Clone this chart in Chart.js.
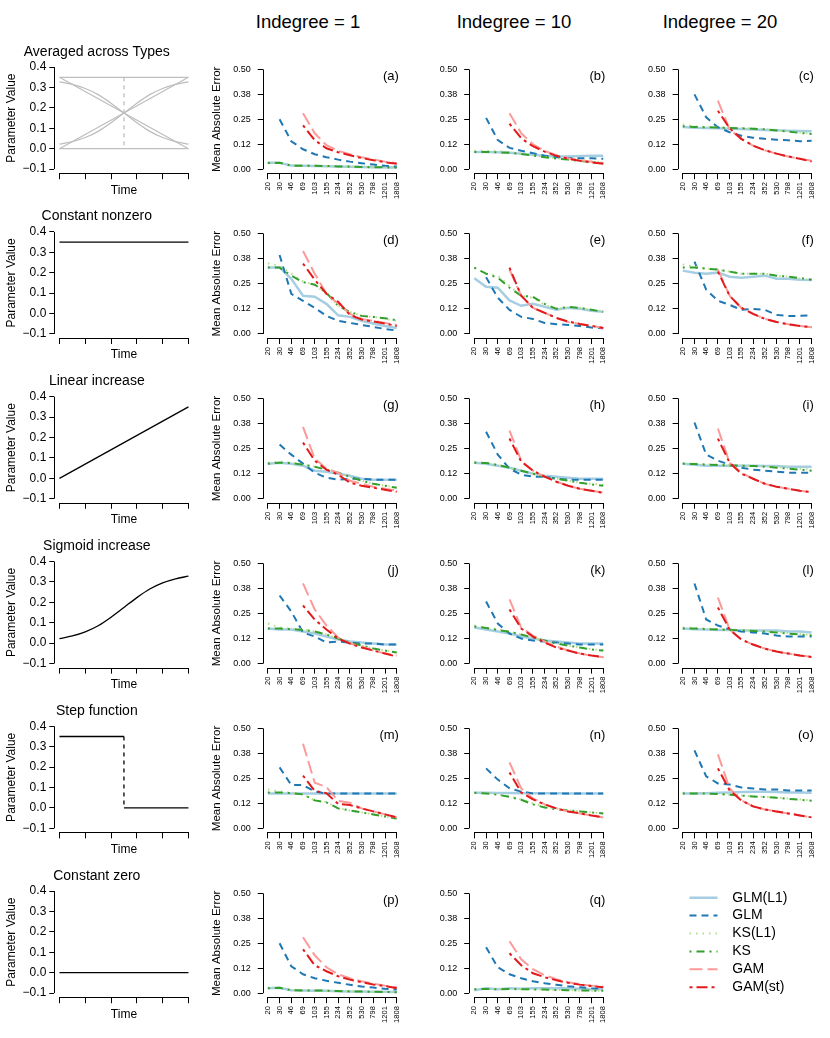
<!DOCTYPE html>
<html>
<head>
<meta charset="utf-8">
<script src="https://cdn.jsdelivr.net/npm/chart.js@4.4.1/dist/chart.umd.min.js"></script>
<style>
html, body { margin: 0; padding: 0; background: #fff; overflow: hidden; }
#fig { position: relative; width: 830px; height: 1038px; overflow: hidden; background: #fff; }
.box { position: absolute; }
.hdr { position: absolute; top: 11px; width: 200px; line-height: 22px; text-align: center;
       font: 18.5px "Liberation Sans", Arial, sans-serif; color: #000; }
</style>
</head>
<body>
<div id="fig"></div>
<script>
// sample sizes on the x axis of every error panel
const sizes = [20, 30, 46, 69, 103, 155, 234, 352, 530, 798, 1201, 1808];
const maeTicks = [0, 0.125, 0.25, 0.375, 0.5];
const maeTickLabels = ["0.00", "0.12", "0.25", "0.38", "0.50"];
const paramTicks = [-0.1, 0, 0.1, 0.2, 0.3, 0.4];
const paramTickLabels = ["\u22120.1", "0.0", "0.1", "0.2", "0.3", "0.4"];
const timeTicks = [0, 0.2, 0.4, 0.6, 0.8, 1];

const methods = ["GLM(L1)", "GLM", "KS(L1)", "KS", "GAM", "GAM(st)"];
const methodColors = ["#a6cee3", "#1f78b4", "#b2df8a", "#33a02c", "#fb9a99", "#e31a1c"];
const methodWidths = [2.5, 2, 2, 2, 2, 2];
const methodDash = [[], [7, 5], [1.5, 5], [2, 5, 8, 5], [13, 5], [3, 4, 11, 4]];

const headers = ["Indegree = 1", "Indegree = 10", "Indegree = 20"];
const rowTitles = ["Averaged across Types", "Constant nonzero", "Linear increase",
                   "Sigmoid increase", "Step function", "Constant zero"];

// ---- parameter curves (column 1) ----
const ends = [0, 1];
const constHigh = [0.35, 0.35];
const constZero = [0, 0];
const linearUp = [0, 0.35];
const linearDown = [0.35, 0];
const sigTime = [0, 0.1, 0.2, 0.3, 0.4, 0.5, 0.6, 0.7, 0.8, 0.9, 1];
const sigmoidUp = [0.022, 0.035, 0.055, 0.085, 0.127, 0.175, 0.223, 0.265, 0.295, 0.315, 0.328];
const sigmoidDown = [0.328, 0.315, 0.295, 0.265, 0.223, 0.175, 0.127, 0.085, 0.055, 0.035, 0.022];
const stepHighT = [0, 0.5], stepHigh = [0.35, 0.35];
const stepDropT = [0.5, 0.5], stepDrop = [0.35, 0];
const stepLowT = [0.5, 1], stepLow = [0, 0];

// ---- mean absolute error, one array per method and panel ----
const glmL1_a = [0.032,0.032,0.018,0.017,0.016,0.015,0.013,0.012,0.011,0.010,0.010,0.009];
const glm_a   = [null,0.25,0.14,0.10,0.075,0.06,0.048,0.038,0.03,0.023,0.017,0.013];
const ksL1_a  = [0.033,0.033,0.019,0.018,0.016,0.015,0.013,0.012,0.011,0.010,0.009,0.009];
const ks_a    = [0.031,0.032,0.018,0.017,0.017,0.016,0.014,0.013,0.011,0.010,0.009,0.008];
const gam_a   = [null,null,null,0.28,0.18,0.12,0.092,0.075,0.06,0.048,0.038,0.03];
const gamSt_a = [null,null,null,0.22,0.145,0.105,0.085,0.07,0.056,0.045,0.035,0.027];

const glmL1_b = [0.086,0.086,0.085,0.082,0.077,0.072,0.067,0.064,0.064,0.066,0.068,0.068];
const glm_b   = [null,0.257,0.146,0.107,0.092,0.08,0.068,0.06,0.056,0.055,0.055,0.052];
const ksL1_b  = [0.092,0.093,0.092,0.085,0.078,0.07,0.062,0.055,0.05,0.045,0.04,0.035];
const ks_b    = [0.086,0.086,0.085,0.082,0.076,0.068,0.06,0.054,0.048,0.042,0.036,0.031];
const gam_b   = [null,null,null,0.28,0.18,0.125,0.092,0.07,0.055,0.045,0.037,0.03];
const gamSt_b = [null,null,null,0.228,0.155,0.115,0.088,0.067,0.052,0.042,0.034,0.027];

const glmL1_c = [0.212,0.208,0.206,0.205,0.203,0.201,0.199,0.197,0.195,0.193,0.191,0.19];
const glm_c   = [null,0.375,0.26,0.21,0.185,0.168,0.158,0.152,0.148,0.145,0.14,0.142];
const ksL1_c  = [0.224,0.215,0.212,0.21,0.208,0.206,0.204,0.201,0.196,0.19,0.184,0.178];
const ks_c    = [0.215,0.212,0.21,0.209,0.207,0.205,0.203,0.2,0.194,0.188,0.182,0.176];
const gam_c   = [null,null,null,0.343,0.2,0.15,0.118,0.095,0.078,0.064,0.052,0.042];
const gamSt_c = [null,null,null,0.293,0.205,0.152,0.118,0.095,0.078,0.064,0.052,0.038];

const glmL1_d = [0.331,0.331,0.274,0.19,0.185,0.15,0.093,0.085,0.065,0.052,0.04,0.03];
const glm_d   = [null,0.393,0.2,0.165,0.13,0.09,0.065,0.055,0.045,0.035,0.025,0.017];
const ksL1_d  = [0.35,0.34,0.30,0.26,0.245,0.20,0.14,0.11,0.09,0.085,0.075,0.065];
const ks_d    = [0.33,0.33,0.29,0.258,0.245,0.205,0.14,0.11,0.09,0.085,0.078,0.068];
const gam_d   = [null,null,null,0.413,0.30,0.20,0.15,0.10,0.075,0.065,0.055,0.045];
const gamSt_d = [null,null,null,0.35,0.27,0.20,0.16,0.095,0.072,0.062,0.052,0.04];

const glmL1_e = [0.277,0.235,0.23,0.167,0.14,0.15,0.135,0.12,0.13,0.125,0.115,0.11];
const glm_e   = [null,0.282,0.18,0.12,0.085,0.075,0.055,0.048,0.045,0.04,0.032,0.028];
const ksL1_e  = [0.33,0.30,0.29,0.24,0.19,0.18,0.145,0.125,0.13,0.13,0.12,0.11];
const ks_e    = [0.33,0.30,0.28,0.23,0.19,0.185,0.15,0.125,0.135,0.13,0.12,0.11];
const gam_e   = [null,null,null,0.32,0.19,0.13,0.105,0.08,0.06,0.05,0.04,0.03];
const gamSt_e = [null,null,null,0.33,0.19,0.13,0.105,0.08,0.062,0.05,0.04,0.03];

const glmL1_f = [0.315,0.305,0.30,0.305,0.285,0.28,0.285,0.29,0.275,0.275,0.27,0.268];
const glm_f   = [null,0.36,0.22,0.165,0.145,0.12,0.125,0.12,0.095,0.09,0.09,0.092];
const ksL1_f  = [0.345,0.335,0.325,0.32,0.31,0.30,0.30,0.30,0.29,0.285,0.275,0.265];
const ks_f    = [0.33,0.33,0.325,0.32,0.31,0.30,0.30,0.30,0.29,0.285,0.278,0.27];
const gam_f   = [null,null,null,0.32,0.19,0.13,0.10,0.075,0.06,0.048,0.04,0.033];
const gamSt_f = [null,null,null,0.31,0.19,0.13,0.10,0.075,0.06,0.048,0.04,0.033];

const glmL1_g = [0.175,0.18,0.175,0.165,0.14,0.135,0.125,0.115,0.10,0.095,0.095,0.095];
const glm_g   = [null,0.27,0.22,0.175,0.13,0.105,0.095,0.10,0.10,0.095,0.095,0.095];
const ksL1_g  = [0.18,0.185,0.18,0.17,0.16,0.145,0.13,0.11,0.09,0.075,0.065,0.055];
const ks_g    = [0.175,0.18,0.178,0.17,0.16,0.145,0.13,0.11,0.09,0.075,0.065,0.055];
const gam_g   = [null,null,null,0.358,0.20,0.15,0.13,0.09,0.075,0.06,0.05,0.04];
const gamSt_g = [null,null,null,0.28,0.19,0.145,0.12,0.08,0.065,0.055,0.045,0.035];

const glmL1_h = [0.18,0.175,0.165,0.155,0.14,0.125,0.115,0.11,0.105,0.10,0.10,0.10];
const glm_h   = [null,0.334,0.22,0.15,0.12,0.11,0.11,0.10,0.095,0.095,0.095,0.095];
const ksL1_h  = [0.185,0.18,0.17,0.155,0.14,0.125,0.11,0.10,0.09,0.08,0.075,0.07];
const ks_h    = [0.18,0.178,0.168,0.155,0.14,0.125,0.11,0.10,0.09,0.08,0.072,0.065];
const gam_h   = [null,null,null,0.34,0.19,0.14,0.11,0.085,0.065,0.05,0.04,0.03];
const gamSt_h = [null,null,null,0.30,0.185,0.14,0.11,0.085,0.065,0.05,0.04,0.03];

const glmL1_i = [0.175,0.17,0.165,0.165,0.165,0.165,0.165,0.163,0.163,0.16,0.16,0.16];
const glm_i   = [null,0.38,0.22,0.19,0.17,0.155,0.145,0.14,0.135,0.13,0.13,0.13];
const ksL1_i  = [0.178,0.175,0.172,0.17,0.168,0.166,0.164,0.162,0.158,0.154,0.15,0.145];
const ks_i    = [0.175,0.173,0.17,0.168,0.166,0.165,0.163,0.16,0.155,0.15,0.145,0.14];
const gam_i   = [null,null,null,0.35,0.18,0.13,0.10,0.075,0.06,0.05,0.04,0.033];
const gamSt_i = [null,null,null,0.30,0.18,0.125,0.10,0.075,0.06,0.05,0.04,0.033];

const glmL1_j = [0.175,0.17,0.17,0.16,0.15,0.135,0.12,0.11,0.105,0.10,0.095,0.095];
const glm_j   = [null,0.34,0.26,0.155,0.135,0.105,0.11,0.105,0.10,0.10,0.095,0.095];
const ksL1_j  = [0.20,0.18,0.175,0.17,0.16,0.145,0.125,0.105,0.09,0.075,0.065,0.055];
const ks_j    = [0.175,0.175,0.172,0.168,0.16,0.145,0.125,0.105,0.09,0.075,0.065,0.055];
const gam_j   = [null,null,null,0.40,0.27,0.19,0.13,0.10,0.085,0.065,0.05,0.04];
const gamSt_j = [null,null,null,0.29,0.22,0.17,0.125,0.10,0.08,0.065,0.05,0.035];

const glmL1_k = [0.18,0.17,0.16,0.15,0.135,0.125,0.115,0.11,0.105,0.10,0.10,0.10];
const glm_k   = [null,0.31,0.20,0.15,0.125,0.115,0.11,0.105,0.10,0.095,0.095,0.095];
const ksL1_k  = [0.19,0.18,0.17,0.16,0.145,0.13,0.115,0.10,0.09,0.08,0.072,0.065];
const ks_k    = [0.185,0.178,0.168,0.158,0.145,0.13,0.115,0.10,0.09,0.08,0.07,0.065];
const gam_k   = [null,null,null,0.32,0.18,0.14,0.11,0.085,0.065,0.05,0.04,0.032];
const gamSt_k = [null,null,null,0.27,0.175,0.135,0.105,0.08,0.065,0.05,0.04,0.032];

const glmL1_l = [0.175,0.172,0.17,0.168,0.168,0.165,0.165,0.165,0.165,0.16,0.16,0.155];
const glm_l   = [null,0.40,0.22,0.19,0.17,0.16,0.155,0.15,0.14,0.135,0.135,0.135];
const ksL1_l  = [0.18,0.178,0.175,0.172,0.17,0.168,0.165,0.162,0.158,0.152,0.148,0.142];
const ks_l    = [0.175,0.175,0.172,0.17,0.168,0.166,0.163,0.16,0.155,0.15,0.145,0.14];
const gam_l   = [null,null,null,0.33,0.17,0.12,0.095,0.075,0.06,0.05,0.04,0.033];
const gamSt_l = [null,null,null,0.28,0.17,0.12,0.095,0.075,0.06,0.05,0.04,0.033];

const glmL1_m = [0.175,0.175,0.175,0.175,0.175,0.175,0.175,0.175,0.175,0.175,0.175,0.175];
const glm_m   = [null,0.305,0.217,0.217,0.184,0.175,0.175,0.175,0.175,0.175,0.175,0.175];
const ksL1_m  = [0.195,0.185,0.178,0.17,0.14,0.132,0.10,0.09,0.08,0.07,0.06,0.048];
const ks_m    = [0.18,0.18,0.176,0.17,0.14,0.13,0.10,0.09,0.08,0.07,0.06,0.05];
const gam_m   = [null,null,null,0.423,0.228,0.207,0.138,0.128,0.10,0.085,0.07,0.055];
const gamSt_m = [null,null,null,0.264,0.187,0.176,0.122,0.117,0.10,0.085,0.07,0.055];

const glmL1_n = [0.178,0.178,0.177,0.177,0.176,0.176,0.176,0.176,0.175,0.175,0.175,0.175];
const glm_n   = [null,0.30,0.244,0.20,0.184,0.175,0.175,0.175,0.175,0.175,0.175,0.175];
const ksL1_n  = [0.18,0.178,0.17,0.16,0.145,0.125,0.11,0.10,0.09,0.085,0.08,0.075];
const ks_n    = [0.178,0.175,0.168,0.158,0.143,0.12,0.105,0.095,0.09,0.085,0.08,0.075];
const gam_n   = [null,null,null,0.33,0.20,0.15,0.12,0.10,0.085,0.075,0.065,0.055];
const gamSt_n = [null,null,null,0.28,0.18,0.145,0.12,0.10,0.085,0.075,0.065,0.055];

const glmL1_o = [0.175,0.175,0.176,0.178,0.18,0.182,0.183,0.183,0.182,0.18,0.18,0.178];
const glm_o   = [null,0.39,0.26,0.225,0.22,0.205,0.20,0.195,0.195,0.19,0.19,0.19];
const ksL1_o  = [0.178,0.176,0.175,0.172,0.168,0.165,0.16,0.158,0.155,0.15,0.145,0.14];
const ks_o    = [0.175,0.175,0.174,0.172,0.168,0.164,0.16,0.157,0.153,0.148,0.143,0.138];
const gam_o   = [null,null,null,0.37,0.20,0.14,0.11,0.095,0.085,0.075,0.065,0.055];
const gamSt_o = [null,null,null,0.30,0.19,0.14,0.11,0.095,0.085,0.075,0.065,0.055];

const glmL1_p = [0.025,0.027,0.015,0.013,0.012,0.012,0.01,0.009,0.008,0.007,0.007,0.006];
const glm_p   = [null,0.25,0.135,0.095,0.075,0.062,0.052,0.042,0.034,0.028,0.022,0.018];
const ksL1_p  = [0.027,0.028,0.016,0.014,0.013,0.012,0.01,0.009,0.008,0.007,0.006,0.006];
const ks_p    = [0.025,0.027,0.015,0.013,0.013,0.013,0.011,0.009,0.008,0.007,0.006,0.005];
const gam_p   = [null,null,null,0.28,0.19,0.13,0.095,0.075,0.06,0.048,0.038,0.03];
const gamSt_p = [null,null,null,0.22,0.14,0.11,0.085,0.068,0.055,0.044,0.036,0.025];

const glmL1_q = [0.015,0.025,0.02,0.025,0.022,0.025,0.025,0.025,0.025,0.022,0.02,0.02];
const glm_q   = [null,0.23,0.13,0.095,0.075,0.06,0.05,0.042,0.035,0.03,0.025,0.022];
const ksL1_q  = [0.02,0.022,0.02,0.022,0.02,0.02,0.018,0.017,0.015,0.014,0.013,0.012];
const ks_q    = [0.02,0.021,0.02,0.021,0.02,0.019,0.018,0.016,0.015,0.014,0.013,0.012];
const gam_q   = [null,null,null,0.26,0.17,0.12,0.09,0.07,0.055,0.045,0.038,0.032];
const gamSt_q = [null,null,null,0.20,0.14,0.10,0.08,0.065,0.052,0.043,0.036,0.03];

// panel table: [letter, row, column, series in method order]
const maePanels = [
  ["a", 0, 0, [glmL1_a, glm_a, ksL1_a, ks_a, gam_a, gamSt_a]],
  ["b", 0, 1, [glmL1_b, glm_b, ksL1_b, ks_b, gam_b, gamSt_b]],
  ["c", 0, 2, [glmL1_c, glm_c, ksL1_c, ks_c, gam_c, gamSt_c]],
  ["d", 1, 0, [glmL1_d, glm_d, ksL1_d, ks_d, gam_d, gamSt_d]],
  ["e", 1, 1, [glmL1_e, glm_e, ksL1_e, ks_e, gam_e, gamSt_e]],
  ["f", 1, 2, [glmL1_f, glm_f, ksL1_f, ks_f, gam_f, gamSt_f]],
  ["g", 2, 0, [glmL1_g, glm_g, ksL1_g, ks_g, gam_g, gamSt_g]],
  ["h", 2, 1, [glmL1_h, glm_h, ksL1_h, ks_h, gam_h, gamSt_h]],
  ["i", 2, 2, [glmL1_i, glm_i, ksL1_i, ks_i, gam_i, gamSt_i]],
  ["j", 3, 0, [glmL1_j, glm_j, ksL1_j, ks_j, gam_j, gamSt_j]],
  ["k", 3, 1, [glmL1_k, glm_k, ksL1_k, ks_k, gam_k, gamSt_k]],
  ["l", 3, 2, [glmL1_l, glm_l, ksL1_l, ks_l, gam_l, gamSt_l]],
  ["m", 4, 0, [glmL1_m, glm_m, ksL1_m, ks_m, gam_m, gamSt_m]],
  ["n", 4, 1, [glmL1_n, glm_n, ksL1_n, ks_n, gam_n, gamSt_n]],
  ["o", 4, 2, [glmL1_o, glm_o, ksL1_o, ks_o, gam_o, gamSt_o]],
  ["p", 5, 0, [glmL1_p, glm_p, ksL1_p, ks_p, gam_p, gamSt_p]],
  ["q", 5, 1, [glmL1_q, glm_q, ksL1_q, ks_q, gam_q, gamSt_q]]
];

Chart.defaults.font.family = '"Liberation Sans", Arial, Helvetica, sans-serif';
Chart.defaults.color = "#000";
Chart.defaults.animation = false;

const fig = document.getElementById("fig");
const ROW_STEP = 164.8;
const TOP0 = 63;
const AREA_H = 110.2;
const maeLeft = [262.7, 469.2, 677.6];
const headerCenter = [308, 514, 720];

headers.forEach((h, i) => {
  const d = document.createElement("div");
  d.className = "hdr";
  d.style.left = (headerCenter[i] - 100) + "px";
  d.textContent = h;
  fig.appendChild(d);
});

function addCanvas(x, y, w, h) {
  const d = document.createElement("div");
  d.className = "box";
  d.style.left = x + "px"; d.style.top = y + "px";
  d.style.width = w + "px"; d.style.height = h + "px";
  const c = document.createElement("canvas");
  c.width = w; c.height = h;
  c.style.width = w + "px"; c.style.height = h + "px";
  d.appendChild(c);
  fig.appendChild(d);
  return c;
}

// R style axes: line only between first and last tick, plus panel letter
const rAxes = {
  id: "rAxes",
  afterDraw(chart, args, opts) {
    const { ctx, chartArea, scales: { x, y } } = chart;
    const xt = x.ticks, yt = y.ticks;
    ctx.save();
    ctx.strokeStyle = "#000";
    ctx.lineWidth = 1;
    ctx.beginPath();
    const by = Math.round(chartArea.bottom) + 0.5;
    ctx.moveTo(x.getPixelForValue(xt[0].value), by);
    ctx.lineTo(x.getPixelForValue(xt[xt.length - 1].value), by);
    const lx = Math.round(chartArea.left) + 0.5;
    ctx.moveTo(lx, y.getPixelForValue(yt[0].value));
    ctx.lineTo(lx, y.getPixelForValue(yt[yt.length - 1].value));
    ctx.stroke();
    if (opts.letter) {
      ctx.fillStyle = "#000";
      ctx.font = '13px "Liberation Sans", Arial, sans-serif';
      ctx.textAlign = "right";
      ctx.textBaseline = "middle";
      ctx.fillText("(" + opts.letter + ")", chartArea.right - 3, chartArea.top + 11);
    }
    ctx.restore();
  }
};

function tickGrid(len) {
  return { display: true, drawOnChartArea: false, drawTicks: true, tickLength: len, color: "#000", lineWidth: 1 };
}

function maeChart(letter, row, col, series) {
  const a = { l: maeLeft[col], t: TOP0 + row * ROW_STEP };
  a.r = a.l + 139.2; a.b = a.t + AREA_H;
  const mB = 45;
  const x0 = Math.floor(a.l - 62), y0 = Math.floor(a.t - 10);
  const x1 = Math.ceil(a.r + 12), y1 = Math.ceil(a.b + mB + 1);
  const c = addCanvas(x0, y0, x1 - x0, y1 - y0);
  new Chart(c, {
    type: "line",
    data: {
      datasets: series.map((vals, i) => ({
        label: methods[i],
        data: vals.map((v, j) => ({ x: j, y: v })),
        borderColor: methodColors[i],
        borderWidth: methodWidths[i],
        borderDash: methodDash[i],
        borderCapStyle: "butt",
        pointRadius: 0,
        tension: 0,
        fill: false,
        order: methods.length - i
      }))
    },
    options: {
      responsive: false,
      animation: false,
      events: [],
      layout: { padding: { left: 0, top: a.t - y0, right: x1 - a.r, bottom: y1 - a.b - mB } },
      plugins: { legend: { display: false }, tooltip: { enabled: false }, rAxes: { letter } },
      scales: {
        x: {
          type: "linear", min: -0.44, max: 11.44,
          afterBuildTicks: s => { s.ticks = sizes.map((_, j) => ({ value: j })); },
          afterFit: s => { s.height = mB; },
          grid: tickGrid(6),
          border: { display: false },
          ticks: { autoSkip: false, minRotation: 90, maxRotation: 90, padding: 3,
                   font: { size: 7.5 }, callback: (v, j) => String(sizes[j]) }
        },
        y: {
          min: -0.02, max: 0.52,
          afterBuildTicks: s => { s.ticks = maeTicks.map(v => ({ value: v })); },
          afterFit: s => { s.width = a.l - x0; },
          grid: tickGrid(5),
          border: { display: false },
          ticks: { padding: 7, font: { size: 9 }, callback: (v, j) => maeTickLabels[j] },
          title: { display: col === 0, text: "Mean Absolute Error", font: { size: 11.5 },
                   padding: { top: 216.5 - x0 - 6.9, bottom: 0 } }
        }
      }
    },
    plugins: [rAxes]
  });
}

function paramChart(row, lines) {
  const a = { l: 54.3, t: TOP0 + row * ROW_STEP };
  a.r = a.l + 139.3; a.b = a.t + AREA_H;
  const mB = 24;
  const x0 = 0, y0 = Math.floor(a.t - 30);
  const x1 = Math.ceil(a.r + 8), y1 = Math.ceil(a.b + mB + 1);
  const c = addCanvas(x0, y0, x1 - x0, y1 - y0);
  const titleTop = (a.t - 11.2 - 8.4) - y0;
  new Chart(c, {
    type: "line",
    data: {
      datasets: lines.map(ln => ({
        data: ln.t.map((t, j) => ({ x: t, y: ln.v[j] })),
        borderColor: ln.color,
        borderWidth: 1.3,
        borderDash: ln.dash || [],
        pointRadius: 0,
        tension: ln.smooth ? 0.4 : 0,
        cubicInterpolationMode: ln.smooth ? "monotone" : "default",
        fill: false
      }))
    },
    options: {
      responsive: false,
      animation: false,
      events: [],
      layout: { padding: { left: 0, top: 0, right: x1 - a.r, bottom: y1 - a.b - mB } },
      plugins: {
        legend: { display: false }, tooltip: { enabled: false },
        title: { display: true, text: rowTitles[row], font: { size: 14, weight: "normal" }, color: "#000",
                 padding: { top: titleTop, bottom: a.t - y0 - titleTop - 16.8 } }
      },
      scales: {
        x: {
          type: "linear", min: -0.04, max: 1.04,
          afterBuildTicks: s => { s.ticks = timeTicks.map(v => ({ value: v })); },
          afterFit: s => { s.height = mB; },
          grid: tickGrid(6),
          border: { display: false },
          ticks: { display: false },
          title: { display: true, text: "Time", font: { size: 12 }, padding: { top: 0, bottom: mB - 17 - 7.2 } }
        },
        y: {
          min: -0.12, max: 0.42,
          afterBuildTicks: s => { s.ticks = paramTicks.map(v => ({ value: v })); },
          afterFit: s => { s.width = a.l - x0; },
          grid: tickGrid(5),
          border: { display: false },
          ticks: { padding: 3, font: { size: 12 }, callback: (v, j) => paramTickLabels[j] },
          title: { display: true, text: "Parameter Value", font: { size: 12 }, padding: { top: 12 - 7.2, bottom: 0 } }
        }
      }
    },
    plugins: [rAxes]
  });
}

const GRAY = "#bebebe", BLACK = "#000";
paramChart(0, [
  { t: ends, v: constHigh, color: GRAY },
  { t: ends, v: constZero, color: GRAY },
  { t: ends, v: linearUp, color: GRAY },
  { t: ends, v: linearDown, color: GRAY },
  { t: sigTime, v: sigmoidUp, color: GRAY, smooth: true },
  { t: sigTime, v: sigmoidDown, color: GRAY, smooth: true },
  { t: stepDropT, v: stepDrop, color: GRAY, dash: [4, 4] }
]);
paramChart(1, [{ t: ends, v: constHigh, color: BLACK }]);
paramChart(2, [{ t: ends, v: linearUp, color: BLACK }]);
paramChart(3, [{ t: sigTime, v: sigmoidUp, color: BLACK, smooth: true }]);
paramChart(4, [
  { t: stepHighT, v: stepHigh, color: BLACK },
  { t: stepDropT, v: stepDrop, color: BLACK, dash: [4, 4] },
  { t: stepLowT, v: stepLow, color: BLACK }
]);
paramChart(5, [{ t: ends, v: constZero, color: BLACK }]);

maePanels.forEach(p => maeChart(p[0], p[1], p[2], p[3]));

// legend in the empty bottom-right cell, one method per row
(function legendChart() {
  const pad = 3.9, fs = 14;
  const x0 = 684, y0 = 886;
  const c = addCanvas(x0, y0, 110, 240);
  new Chart(c, {
    type: "line",
    data: {
      datasets: methods.map((m, i) => ({
        label: m, data: [],
        borderColor: methodColors[i], backgroundColor: methodColors[i],
        borderWidth: methodWidths[i], borderDash: methodDash[i], borderCapStyle: "butt"
      }))
    },
    options: {
      responsive: false,
      animation: false,
      events: [],
      layout: { padding: { left: 689.5 - pad - x0, top: 897.7 - fs / 2 - pad - y0, right: 0, bottom: 0 } },
      scales: { x: { display: false }, y: { display: false } },
      plugins: {
        tooltip: { enabled: false },
        legend: {
          display: true, position: "top", align: "start",
          labels: {
            usePointStyle: true, pointStyle: "line", pointStyleWidth: 28,
            padding: pad, font: { size: fs }, color: "#000",
            generateLabels: ch => Chart.defaults.plugins.legend.labels.generateLabels(ch)
              .map((it, i) => Object.assign(it, {
                text: "  " + it.text,
                strokeStyle: methodColors[it.datasetIndex],
                lineWidth: methodWidths[it.datasetIndex],
                lineDash: methodDash[it.datasetIndex],
                lineCap: "butt"
              }))
          }
        }
      }
    }
  });
})();
</script>
</body>
</html>
